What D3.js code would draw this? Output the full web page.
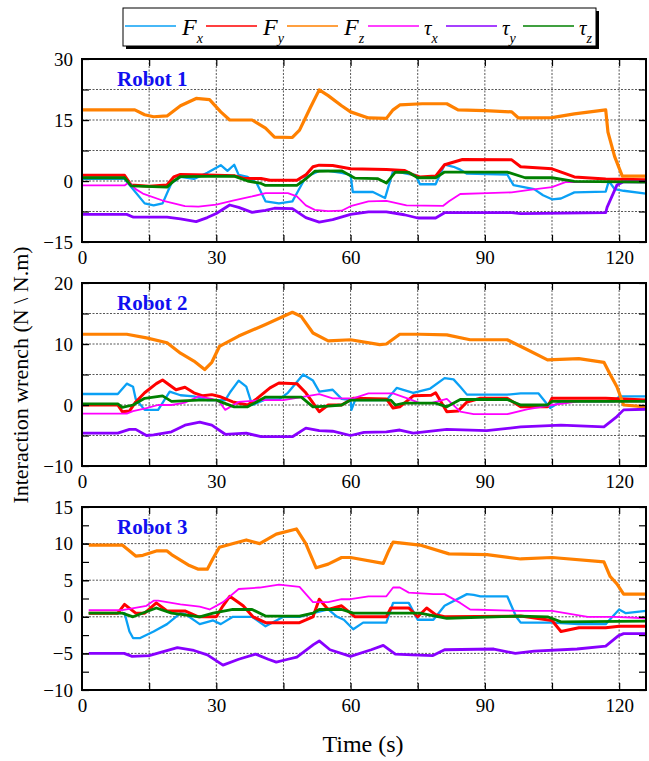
<!DOCTYPE html>
<html>
<head>
<meta charset="utf-8">
<script src="https://cdn.jsdelivr.net/npm/d3@7"></script>
<style>
  body { margin: 0; background: #fff; }
  svg text { font-family: "Liberation Serif", "DejaVu Serif", "Noto Serif", "Times New Roman", Times, serif; }
</style>
</head>
<body>
<div id="chart"></div>
<script>
// time axis
var timeTicks = [0, 30, 60, 90, 120];
var timeGrid = [15, 30, 45, 60, 75, 90, 105, 120];

// legend
var names = ["Fx", "Fy", "Fz", "τx", "τy", "τz"];
var colors = ["#0aa0f5", "#ff0000", "#ff8000", "#ff00ff", "#8800ff", "#008000"];
var widths = [2.3, 3, 3.2, 1.8, 2.8, 2.8];

// Robot 1  [time, value]
var r1Fx = [[0,0.5],[9.5,0.5],[11,-1.5],[14,-5.5],[16,-6],[18,-5.5],[20,-0.5],[22,1],[25,0.5],[28,2],[31,3.9],[32.5,2.5],[34,4],[35,1.5],[37,1],[39,-0.5],[41,-5],[44,-5.5],[47,-5],[48,-3],[50,1],[53,2.5],[55,2.5],[58,2],[60,1.5],[60.5,-2.7],[65,-2.7],[67.7,-4.2],[69.5,2.5],[73,1.7],[74.5,1.5],[75.5,-0.8],[79,-0.8],[81,4],[83,3.5],[84.5,2.8],[86,1.8],[95,1.6],[96.4,-1],[101,-2],[103,-3.5],[105,-4.5],[107,-4.3],[110,-2.8],[117,-2.6],[117.7,0],[119,-2],[121,-2.4],[126,-3.1]];
var r1Fy = [[0,1.4],[9.5,1.4],[11,-1],[15,-1.3],[19,-1],[20.5,1],[22,1.6],[28,1.5],[34,1.3],[36,0.7],[40,0.6],[42,0.2],[48,0.2],[50,1.5],[51.6,3.5],[53,3.9],[56,3.8],[60,3],[68,2.8],[72,2.6],[74,1.5],[75.5,1],[79,1.2],[81,4],[85,5.3],[96,5.2],[98,3.5],[105,3],[108,1.8],[110,1],[117,0.5],[126,0.3]];
var r1Fz = [[0,17.5],[11.8,17.5],[14,16.3],[16,15.8],[19,16],[22,18.5],[25.5,20.3],[28.5,20],[31,17],[33,15],[38,15],[41,13],[43,10.8],[47,10.7],[48.6,12.5],[51,18],[53,22.4],[55,21],[58,18.5],[60,17],[64,15.5],[68,15.4],[69.5,17.5],[71,18.7],[76,19],[81.5,19],[84,17.5],[90,17.3],[96,17],[97.5,15.5],[105,15.6],[110,16.5],[117,17.5],[117.5,12],[119,6],[120.7,1.2],[126,1.2]];
var r1Tx = [[0,-1.1],[9.5,-1.1],[10.5,-0.3],[12,-2],[13.6,-3.1],[18,-4.8],[23,-6.2],[26,-6.3],[30,-5.8],[33.7,-4.8],[38,-3.8],[41,-3],[46,-3],[48,-3.8],[50,-6],[52,-7.1],[55,-7.4],[58,-7.3],[60,-6.2],[64,-5],[68,-4.9],[72.5,-6],[80.7,-6.1],[82,-5],[84.5,-3.2],[90.5,-3],[96,-2.8],[100,-2.2],[105,-1.5],[108,-0.3],[126,-0.2]];
var r1Ty = [[0,-8.2],[10,-8.2],[11.5,-8.9],[19,-8.9],[22,-9.3],[25.5,-10],[28,-9],[30,-8],[33,-5.9],[35,-6.5],[38,-7.7],[41,-7.2],[43,-6.7],[47,-6.8],[50,-9],[53,-10.1],[56,-9.5],[60,-8.2],[64,-7.6],[68,-7.6],[72,-8.3],[75,-9.1],[79,-9.1],[81,-7.8],[96,-7.8],[98,-8],[117,-7.8],[117.3,-6.5],[119.5,-1],[121,-0.2],[126,-0.2]];
var r1Tz = [[0,0.8],[9.5,0.8],[11,-1.2],[19,-1.5],[20.5,0],[22,1.1],[34,1.2],[37,0],[40,-0.6],[41,-1.1],[48,-1.1],[50,0.5],[52,2.4],[58,2.5],[61,0.7],[66,0.6],[68,-0.5],[70,2.2],[73,2.1],[75,0.8],[79,0.8],[81,2.2],[95,2.2],[99,0.8],[105,0.8],[110,-0.1],[126,-0.3]];

// Robot 2
var r2Fx = [[0,1.8],[8,1.8],[10,3.5],[11.4,3],[12,1],[14,-0.8],[17,-0.8],[19.6,2.2],[22,1.6],[25,1.4],[28,0.8],[32,0.8],[33,2],[35,4],[36.7,3],[38,0],[41,0.9],[44,0.9],[46,2],[49.4,5],[51.6,4],[53,2.2],[56,2.5],[58,1],[60,0.8],[60.2,-0.8],[61,0.8],[68,0.8],[70.3,2.8],[74,2],[77.8,2.7],[81,4.4],[83,4.2],[84.5,3],[86,1.7],[95,1.7],[98,1.9],[102,1.9],[104.6,-0.5],[107,0.6],[119,0.6],[120,1.4],[126,1.4]];
var r2Fy = [[0,0],[8,0],[9,-1.1],[10.6,-1],[12,0.5],[14,2],[16.6,3.5],[18,4.1],[21,2.5],[23,2.9],[25,2],[27,1.5],[29,1.7],[30.7,1.4],[33.7,0.5],[37,0],[39,1],[42,2.8],[44,3.6],[48,3.5],[50,2],[53,-1.1],[55,0],[58,0],[60.6,1.1],[68,1],[69.5,-0.5],[71,-0.3],[74,1.5],[78,1.6],[79,2],[81.5,-1.1],[84,-1],[86,0.5],[89,1.1],[95,1.1],[98,-0.3],[104,-0.3],[105,1.1],[117,1.1],[126,0.8]];
var r2Fz = [[0,11.6],[10,11.6],[14.4,11],[19,10.2],[22,8.5],[25,7.2],[27.4,5.8],[29,7],[30.7,9.6],[35,11.3],[41,13.2],[47,15.2],[49,14.5],[51.6,11.8],[55,10.5],[60,10.7],[66.5,9.9],[68,10],[71,11.6],[75.5,11.6],[81.5,11.5],[86.7,10.7],[95,10.7],[99.4,9.1],[104,7.4],[111,7.6],[116.6,7],[118,5],[119.5,3],[121,0],[126,-0.3]];
var r2Tx = [[0,-1.4],[10,-1.4],[11.4,-1],[14.4,-0.5],[17,0],[20,0],[23,0.4],[26,1.4],[29,1],[30.7,0.5],[32,-0.8],[35,0.5],[40,0.8],[45,0.8],[50,1.4],[53,1.8],[56,1.1],[60.6,1.1],[64,1.9],[69.5,1.9],[73,1],[75.5,0.3],[78,0.3],[81.5,1],[84.5,-1.1],[87.5,-1.5],[95,-1.5],[99.4,-0.7],[105,0],[111,0.6],[126,0.6]];
var r2Ty = [[0,-4.6],[8,-4.6],[10.6,-4],[12,-4],[14.4,-5],[16,-4.9],[20,-4.4],[23,-3.3],[26.3,-2.8],[29,-3.3],[32,-4.8],[36.7,-4.6],[40,-5.2],[47,-5.2],[50,-3.8],[53,-4.2],[56,-4.3],[60,-5],[63,-4.5],[68,-4.4],[71,-4.1],[74,-4.6],[81.5,-4],[90.4,-4.2],[98,-3.6],[107,-3.3],[116.6,-3.6],[119.5,-1.9],[121,-0.8],[126,-0.7]];
var r2Tz = [[0,0.2],[8,0.2],[9,-0.4],[11.4,0],[14,1.1],[18,1.5],[20,0.6],[26,0.8],[30,0.8],[34,-0.3],[37,-0.3],[41,1.3],[49,1.3],[51.6,-0.3],[55,-0.2],[58,0],[60,0.8],[69,0.8],[70,0],[72,0.3],[79,0.3],[81.5,-0.3],[84.5,0.9],[95,0.9],[98,0],[104,0],[105,0.6],[126,0.6]];

// Robot 3
var r3Fx = [[1.5,0.5],[9.5,0.5],[10.6,-2],[11.4,-2.9],[13,-2.9],[16,-2],[19,-1],[22,0.5],[23,0.4],[26.3,-1],[29.3,-0.5],[31,-1],[33.7,0],[38,0],[41,-1.3],[45,0],[48.6,0],[51.6,0.5],[55,1],[57,0],[58.5,-0.4],[60.6,-1.7],[62.8,-0.8],[68,-0.8],[69.5,1.9],[73,1.9],[75,-0.4],[78.5,-0.4],[81,1.5],[86,3.1],[87.5,3],[89,2.8],[95,2.8],[97,0],[98,-0.8],[105,-0.8],[111,-1],[117,-1],[118.5,0],[120,1],[121.5,0.5],[126,0.8]];
var r3Fy = [[1.5,0.5],[8,0.5],[9.5,1.7],[12,0.5],[14,0.5],[16.6,1.9],[19,0.8],[23,0.8],[26,0],[30,0],[31.5,1.5],[33,2.8],[36,1.5],[38.2,0],[41,-0.8],[48.6,-0.8],[51.6,0],[53,2.4],[55,1],[58,1.5],[60,0.5],[61,0],[68,0],[69,1.2],[73,1.2],[75,0],[77,1.2],[79,0.3],[81,0],[98,0.1],[105,-0.5],[107,-2],[111,-1.5],[117,-1.5],[120,-1.3],[126,-1.3]];
var r3Fz = [[1.5,9.8],[9,9.8],[12,8.3],[13.6,8.4],[16.6,9],[19,9],[20,8.5],[24,7],[26,6.5],[28,6.5],[29.3,8],[30.7,9.5],[36.7,10.5],[39.7,10],[43.4,11.3],[47.9,12],[50,10],[52.3,6.7],[55,7.2],[58,8.1],[60,8.1],[67.3,7.3],[68.5,9],[69.5,10.2],[75.5,9.8],[82,8.6],[90.5,8.5],[98,7.9],[105,8.1],[116.6,7.5],[118,5.5],[119.5,4.5],[121,3.1],[126,3.1]];
var r3Tx = [[1.5,0.9],[9,0.9],[14.4,1.5],[16,2.2],[17,2.2],[22,1.7],[26.3,1.4],[28.5,1],[31.5,2],[35,3.8],[39.7,4],[44,4.4],[48.6,4.1],[51.6,2],[55,2],[58,2.4],[60,2.4],[64,2.8],[68,2.8],[69.5,4],[71,4],[73,3.3],[78.5,3.1],[81,3.1],[84.5,1.9],[86.7,1],[98,0.8],[105,0.8],[113,0],[119,0],[126,-0.2]];
var r3Ty = [[1.5,-5],[9.4,-5],[11.2,-5.4],[15,-5.3],[21.3,-4.2],[25,-4.6],[28,-5.2],[31.5,-6.6],[35,-5.8],[38.8,-5.1],[41.6,-5.8],[43.4,-6.2],[46,-5.8],[48,-5.5],[51.7,-3.8],[53,-3.3],[55.4,-4.5],[60,-5.4],[64.6,-4.5],[67.3,-3.9],[70,-5.1],[73.8,-5.2],[78.4,-5.3],[81,-4.5],[92,-4.4],[96.8,-5],[101,-4.7],[110.6,-4.4],[117,-4],[119.8,-2.6],[121,-2.3],[126,-2.3]];
var r3Tz = [[1.5,0.5],[9,0.5],[11.4,0],[16.6,1.2],[20,0.5],[26.3,0],[29.3,0.5],[33.7,1],[38,1],[41,0.1],[48.6,0.1],[51.6,0.5],[53,1],[58,1],[60.6,0.5],[75.5,0.5],[81.5,-0.2],[98,0.1],[104,0],[107,-0.7],[126,-0.6]];

// y axis ticks per panel
var p1Labels = [-15, 0, 15, 30], p1Ticks = [-7.5, 0, 7.5, 15, 22.5];
var p2Labels = [-10, 0, 10, 20], p2Ticks = [-5, 0, 5, 10, 15];
var p3Labels = [-10, -5, 0, 5, 10, 15], p3Ticks = [-7.5, -5, -2.5, 0, 2.5, 5, 7.5, 10, 12.5];
var p3Grid = [-5, 0, 5, 10];

var panels = [
    { name: "Robot 1", top: 59, bottom: 242, domain: [-15, 30], labels: p1Labels, ticks: p1Ticks, grid: p1Ticks,
      series: [r1Fx, r1Fy, r1Fz, r1Tx, r1Ty, r1Tz] },
    { name: "Robot 2", top: 283, bottom: 466, domain: [-10, 20], labels: p2Labels, ticks: p2Ticks, grid: p2Ticks,
      series: [r2Fx, r2Fy, r2Fz, r2Tx, r2Ty, r2Tz] },
    { name: "Robot 3", top: 507, bottom: 690, domain: [-10, 15], labels: p3Labels, ticks: p3Ticks, grid: p3Grid,
      series: [r3Fx, r3Fy, r3Fz, r3Tx, r3Ty, r3Tz] }
];

var serif = '"Liberation Serif", "DejaVu Serif", "Noto Serif", "Times New Roman", Times, serif';

var W = 649, H = 761;
var svg = d3.select("#chart").append("svg")
    .attr("width", W)
    .attr("height", H)
    .style("font-family", serif);

var x = d3.scaleLinear().domain([0, 126]).range([82, 646]);

panels.forEach(function (p, i) {
    var y = d3.scaleLinear().domain(p.domain).range([p.bottom, p.top]);
    var g = svg.append("g");

    g.append("clipPath").attr("id", "clip" + i)
        .append("rect")
        .attr("x", x(0)).attr("y", p.top)
        .attr("width", x(126) - x(0)).attr("height", p.bottom - p.top);

    // grid
    g.selectAll(".vg").data(timeGrid).enter().append("line")
        .attr("x1", d => x(d)).attr("x2", d => x(d))
        .attr("y1", p.top).attr("y2", p.bottom)
        .attr("stroke", "#444").attr("stroke-width", 0.9)
        .attr("stroke-dasharray", "2,1.5");
    g.selectAll(".hg").data(p.grid).enter().append("line")
        .attr("x1", x(0)).attr("x2", x(126))
        .attr("y1", d => y(d)).attr("y2", d => y(d))
        .attr("stroke", "#444").attr("stroke-width", 0.9)
        .attr("stroke-dasharray", "2,1.5");

    // series
    var line = d3.line().x(d => x(d[0])).y(d => y(d[1]));
    p.series.forEach(function (s, k) {
        g.append("path")
            .datum(s)
            .attr("clip-path", "url(#clip" + i + ")")
            .attr("fill", "none")
            .attr("stroke", colors[k])
            .attr("stroke-width", widths[k])
            .attr("stroke-linejoin", "round")
            .attr("d", line);
    });

    // axes
    var left = g.append("g").attr("transform", "translate(" + x(0) + ",0)")
        .call(d3.axisLeft(y).tickValues(p.labels).tickSize(0).tickPadding(9).tickFormat(d3.format("d")));
    left.select(".domain").remove();
    left.attr("font-family", serif);
    left.selectAll("text").style("font-size", "19px").style("font-family", serif).attr("fill", "#000");

    var allTicks = p.ticks.concat(p.labels);
    g.append("g").attr("transform", "translate(" + x(0) + ",0)")
        .call(d3.axisLeft(y).tickValues(allTicks).tickSize(-7).tickFormat(""))
        .call(a => a.select(".domain").remove());
    g.append("g").attr("transform", "translate(" + x(126) + ",0)")
        .call(d3.axisRight(y).tickValues(allTicks).tickSize(-7).tickFormat(""))
        .call(a => a.select(".domain").remove());
    g.append("g").attr("transform", "translate(0," + p.top + ")")
        .call(d3.axisTop(x).tickValues(timeGrid).tickSize(-7).tickFormat(""))
        .call(a => a.select(".domain").remove());

    var bottom = g.append("g").attr("transform", "translate(0," + p.bottom + ")")
        .call(d3.axisBottom(x).tickValues(timeGrid).tickSize(-7).tickFormat(""));
    bottom.select(".domain").remove();
    var lab = g.append("g").attr("transform", "translate(0," + p.bottom + ")")
        .call(d3.axisBottom(x).tickValues(timeTicks).tickSize(0).tickPadding(9));
    lab.select(".domain").remove();
    lab.attr("font-family", serif);
    lab.selectAll("text").style("font-size", "19px").style("font-family", serif).attr("fill", "#000");

    g.selectAll(".tick line").attr("stroke", "#000").attr("stroke-width", 1.2);

    // frame
    g.append("rect")
        .attr("x", x(0)).attr("y", p.top)
        .attr("width", x(126) - x(0)).attr("height", p.bottom - p.top)
        .attr("fill", "none").attr("stroke", "#000").attr("stroke-width", 2);

    g.append("text")
        .attr("x", 117).attr("y", p.top + 27)
        .style("font-size", "21px").style("font-weight", "bold")
        .attr("fill", "#1010f0")
        .text(p.name);
});

// axis titles
svg.append("text")
    .attr("transform", "translate(28,375) rotate(-90)")
    .attr("text-anchor", "middle")
    .style("font-size", "22px")
    .text("Interaction wrench (N \\ N.m)");

svg.append("text")
    .attr("x", 363).attr("y", 752)
    .attr("text-anchor", "middle")
    .style("font-size", "24px")
    .text("Time (s)");

// legend
var lg = svg.append("g");
lg.append("rect").attr("x", 126).attr("y", 11).attr("width", 473).attr("height", 38).attr("fill", "#000");
lg.append("rect").attr("x", 123).attr("y", 8).attr("width", 473).attr("height", 38)
    .attr("fill", "#fff").attr("stroke", "#000").attr("stroke-width", 1);

var legendX = [125, 206, 287, 368, 446, 523];
names.forEach(function (n, k) {
    var lx = legendX[k];
    var greek = n[0] === "τ";
    lg.append("line")
        .attr("x1", lx).attr("x2", lx + 51)
        .attr("y1", 26).attr("y2", 26)
        .attr("stroke", colors[k]).attr("stroke-width", 1.5);
    var t = lg.append("text")
        .attr("x", lx + (greek ? 56 : 57)).attr("y", 35)
        .style("font-size", greek ? "21px" : "24px").style("font-style", "italic");
    t.append("tspan").text(n[0]);
    t.append("tspan").attr("dy", 8).style("font-size", "14px").text(n[1]);
});
</script>
</body>
</html>
